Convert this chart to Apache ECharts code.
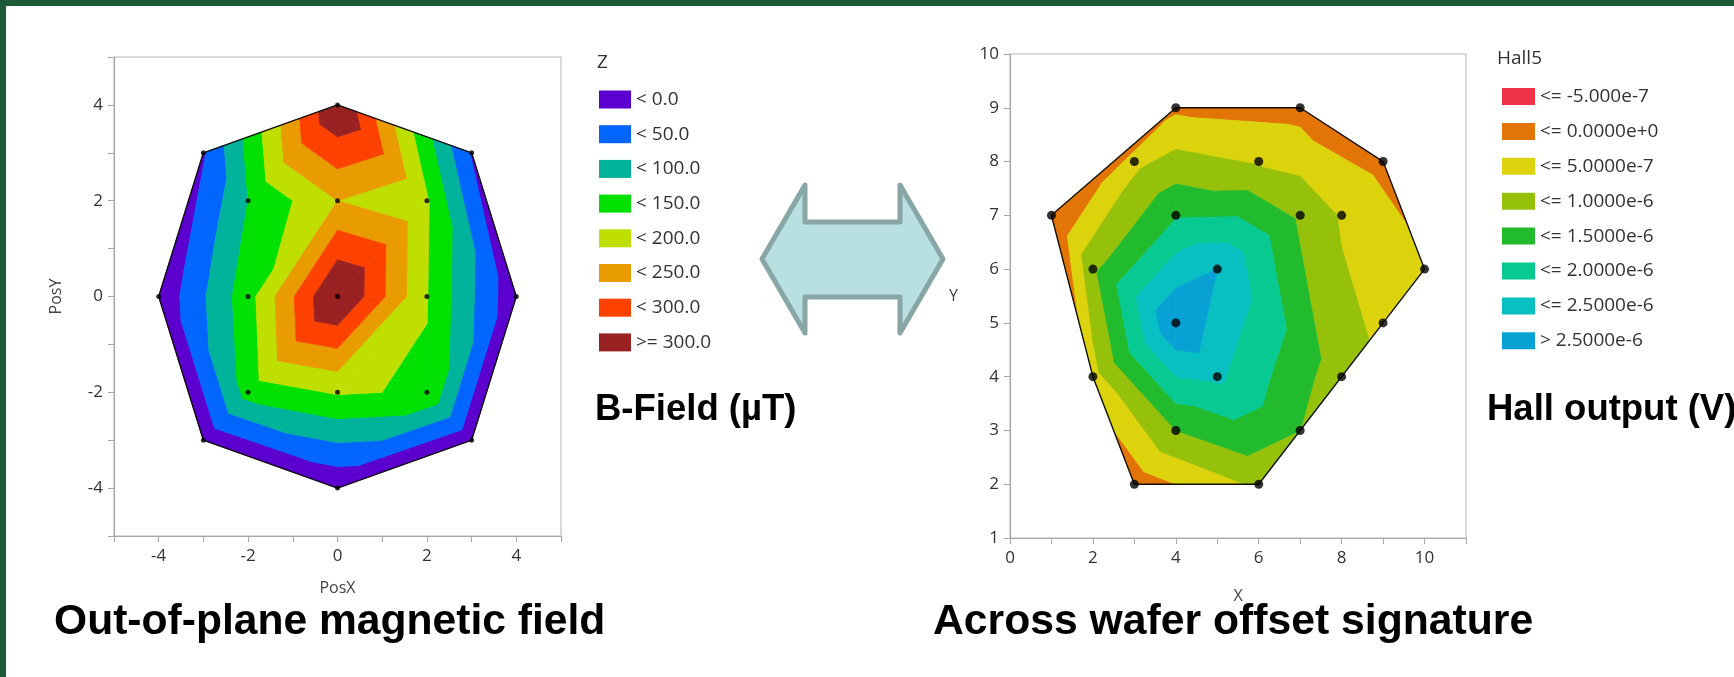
<!DOCTYPE html>
<html><head><meta charset="utf-8">
<script src="https://cdn.jsdelivr.net/npm/echarts@6/dist/echarts.min.js"></script>
<style>html,body{margin:0;padding:0;background:#1c5a38;}#c{width:1734px;height:677px;}</style>
</head><body><div id="c"></div>
<script>
// ---------- Left plot: out-of-plane magnetic field (Z, µT) ----------
const posX  = [0, 3, 4, 3, 0, -3, -4, -3, -2, 0, 2, -2, 0, 2, -2, 0, 2];
const posY  = [4, 3, 0, -3, -4, -3, 0, 3, 2, 2, 2, 0, 0, 0, -2, -2, -2];
const zVals = [350, -5, -40, -40, -45, -40, -40, -5, 100, 200, 155, 130, 362, 152, 120, 155, 145];
const zLevels = [0, 50, 100, 150, 200, 250, 300];
const zLabels = ['< 0.0', '< 50.0', '< 100.0', '< 150.0', '< 200.0', '< 250.0', '< 300.0', '>= 300.0'];
const zColors = ['#5c00cf', '#0066ff', '#00b39a', '#00e100', '#bedf00', '#e99c00', '#fd4200', '#9a2121'];

// ---------- Right plot: Hall output (V) ----------
const hallX = [1, 4, 7, 3, 6, 9, 4, 7, 8, 2, 5, 10, 4, 9, 2, 5, 8, 4, 7, 3, 6];
const hallY = [7, 9, 9, 8, 8, 8, 7, 7, 7, 6, 6, 6, 5, 5, 4, 4, 4, 3, 3, 2, 2];
const hallV = [-5.6e-7, -1e-7, -2e-7, 3.5e-7, 4.5e-7, -1.5e-7, 1.45e-6, 9e-7, 4.5e-7, 9e-7, 2.5e-6, 1e-7,
               3.0e-6, 4e-7, 3e-7, 2.1e-6, 7e-7, 1.0e-6, 1.0e-6, -3e-7, 6e-7];
const hallLevels = [-5e-7, 0, 5e-7, 1e-6, 1.5e-6, 2e-6, 2.5e-6];
const hallLabels = ['<= -5.000e-7', '<= 0.0000e+0', '<= 5.0000e-7', '<= 1.0000e-6', '<= 1.5000e-6', '<= 2.0000e-6', '<= 2.5000e-6', '> 2.5000e-6'];
const hallColors = ['#f03348', '#e27506', '#dcd30c', '#95c10a', '#22bb2e', '#08c992', '#08bfc2', '#07a1d4'];

// axis ranges
const leftRange  = {xmin: -5, xmax: 5, ymin: -5, ymax: 5};
const rightRange = {xmin: 0, xmax: 11, ymin: 1, ymax: 10};

// ---------- geometry helpers ----------
function delaunay(xs, ys) {
  const n = xs.length;
  const P = xs.map((x, i) => [x, ys[i] - 0.01 * x]); // tiny shear as tie-break
  let minX = Infinity, minY = Infinity, maxX = -Infinity, maxY = -Infinity;
  P.forEach(p => { minX = Math.min(minX, p[0]); maxX = Math.max(maxX, p[0]); minY = Math.min(minY, p[1]); maxY = Math.max(maxY, p[1]); });
  const d = Math.max(maxX - minX, maxY - minY) * 50, cx = (minX + maxX) / 2, cy = (minY + maxY) / 2;
  P.push([cx - 2 * d, cy - d], [cx, cy + 2 * d], [cx + 2 * d, cy - d]);
  function circ(t) {
    const [ax, ay] = P[t[0]], [bx, by] = P[t[1]], [qx, qy] = P[t[2]];
    const D = 2 * (ax * (by - qy) + bx * (qy - ay) + qx * (ay - by));
    if (Math.abs(D) < 1e-14) return {x: 0, y: 0, r2: Infinity};
    const a2 = ax * ax + ay * ay, b2 = bx * bx + by * by, c2 = qx * qx + qy * qy;
    const ux = (a2 * (by - qy) + b2 * (qy - ay) + c2 * (ay - by)) / D;
    const uy = (a2 * (qx - bx) + b2 * (ax - qx) + c2 * (bx - ax)) / D;
    return {x: ux, y: uy, r2: (ax - ux) ** 2 + (ay - uy) ** 2};
  }
  let tris = [[n, n + 1, n + 2]];
  for (let i = 0; i < n; i++) {
    const p = P[i], bad = [], good = [];
    for (const t of tris) {
      const c = t.c || (t.c = circ(t));
      const dd = (p[0] - c.x) ** 2 + (p[1] - c.y) ** 2;
      (dd < c.r2 * (1 - 1e-12) ? bad : good).push(t);
    }
    const edges = new Map();
    for (const t of bad) for (const [a, b] of [[t[0], t[1]], [t[1], t[2]], [t[2], t[0]]]) {
      const k = a < b ? a + ',' + b : b + ',' + a;
      const e = edges.get(k);
      if (e) e.n++; else edges.set(k, {a, b, n: 1});
    }
    tris = good;
    for (const e of edges.values()) if (e.n === 1) tris.push([e.a, e.b, i]);
  }
  return tris.filter(t => t[0] < n && t[1] < n && t[2] < n &&
    Math.abs((xs[t[1]] - xs[t[0]]) * (ys[t[2]] - ys[t[0]]) - (xs[t[2]] - xs[t[0]]) * (ys[t[1]] - ys[t[0]])) > 1e-9)
    .map(t => [t[0], t[1], t[2]]);
}
function clip(poly, f) {
  const out = [];
  for (let i = 0; i < poly.length; i++) {
    const a = poly[i], b = poly[(i + 1) % poly.length];
    const fa = f(a), fb = f(b);
    if (fa >= 0) out.push(a);
    if ((fa >= 0) !== (fb >= 0)) {
      const t = fa / (fa - fb);
      out.push({x: a.x + t * (b.x - a.x), y: a.y + t * (b.y - a.y), v: a.v + t * (b.v - a.v)});
    }
  }
  return out;
}
function polyArea(p) { let s = 0; for (let i = 0; i < p.length; i++) { const a = p[i], b = p[(i + 1) % p.length]; s += a[0] * b[1] - b[0] * a[1]; } return Math.abs(s / 2); }
function convexHull(xs, ys) {
  const pts = xs.map((x, i) => [x, ys[i]]).sort((a, b) => a[0] - b[0] || a[1] - b[1]);
  const cross = (o, a, b) => (a[0] - o[0]) * (b[1] - o[1]) - (a[1] - o[1]) * (b[0] - o[0]);
  const lower = [], upper = [];
  for (const p of pts) { while (lower.length >= 2 && cross(lower[lower.length - 2], lower[lower.length - 1], p) <= 0) lower.pop(); lower.push(p); }
  for (let i = pts.length - 1; i >= 0; i--) { const p = pts[i]; while (upper.length >= 2 && cross(upper[upper.length - 2], upper[upper.length - 1], p) <= 0) upper.pop(); upper.push(p); }
  const h = lower.slice(0, -1).concat(upper.slice(0, -1));
  h.push(h[0]);
  return h;
}
function bandSeries(xs, ys, vs, levels, labels, colors, gi) {
  const tris = delaunay(xs, ys);
  const bounds = [-Infinity, ...levels, Infinity];
  return labels.map((name, k) => {
    const lo = bounds[k], hi = bounds[k + 1];
    const polys = [];
    for (const t of tris) {
      let poly = t.map(i => ({x: xs[i], y: ys[i], v: vs[i]}));
      if (lo > -Infinity) poly = clip(poly, q => q.v - lo);
      if (poly.length >= 3 && hi < Infinity) poly = clip(poly, q => hi - q.v);
      if (poly.length >= 3) { const pp = poly.map(q => [q.x, q.y]); if (polyArea(pp) > 1e-7) polys.push(pp); }
    }
    return {
      type: 'custom', name, xAxisIndex: gi, yAxisIndex: gi, color: colors[k], itemStyle: {color: colors[k]},
      animation: false, silent: true, z: 1,
      data: polys.map(p => p[0]),
      renderItem: (params, api) => ({
        type: 'polygon',
        shape: {points: polys[params.dataIndex].map(p => api.coord(p))},
        style: {fill: colors[k], stroke: colors[k], lineWidth: 0.8}
      })
    };
  });
}

const FONT = "'Open Sans', 'Noto Sans', sans-serif";
const axisCommon = (gi, r, isX, everyOther, name, nameGap, nameRotate) => ({
  type: 'value', gridIndex: gi, min: isX ? r.xmin : r.ymin, max: isX ? r.xmax : r.ymax, interval: 1,
  name, nameLocation: 'middle', nameGap, nameRotate,
  nameTextStyle: {fontSize: 16, color: '#444', fontFamily: FONT},
  axisLine: {show: true, onZero: false, lineStyle: {color: '#a9a9a9', width: 1.2}},
  axisTick: {show: true, inside: false, length: 6, lineStyle: {color: '#a9a9a9'}},
  axisLabel: {fontSize: 17, color: '#333', fontFamily: FONT, margin: isX ? 12 : 11,
    formatter: v => (everyOther && v % 2 !== 0) ? '' : String(v),
    showMinLabel: true, showMaxLabel: true},
  splitLine: {show: false}
});

const chart = echarts.init(document.getElementById('c'), null, {renderer: 'canvas'});
const hullL = convexHull(posX, posY), hullR = convexHull(hallX, hallY);
const BOLD = "'Liberation Sans', Arial, sans-serif";
chart.setOption({
  backgroundColor: '#1c5a38',
  animation: false,
  textStyle: {fontFamily: FONT},
  grid: [
    {left: 114, top: 57, width: 447, height: 479, show: true, borderColor: '#b4b4b4', borderWidth: 1, backgroundColor: 'transparent'},
    {left: 1010, top: 54, width: 456, height: 484, show: true, borderColor: '#b4b4b4', borderWidth: 1, backgroundColor: 'transparent'}
  ],
  xAxis: [
    axisCommon(0, leftRange, true, true, 'PosX', 44, 0),
    axisCommon(1, rightRange, true, true, 'X', 50, 0)
  ],
  yAxis: [
    axisCommon(0, leftRange, false, true, 'PosY', 50, 90),
    axisCommon(1, rightRange, false, false, 'Y', 52, 0)
  ],
  legend: [
    {data: zLabels, orient: 'vertical', left: 599, top: 90, padding: 0, itemWidth: 32, itemHeight: 18, itemGap: 15.7,
     icon: 'rect', selectedMode: false, textStyle: {fontSize: 19, color: '#333', fontFamily: FONT, lineHeight: 18}},
    {data: hallLabels, orient: 'vertical', left: 1502, top: 87, padding: 0, itemWidth: 33, itemHeight: 17, itemGap: 15.9,
     icon: 'rect', selectedMode: false, textStyle: {fontSize: 19, color: '#333', fontFamily: FONT, lineHeight: 17}}
  ],
  graphic: {elements: [
    {type: 'rect', z: -100, shape: {x: 6, y: 6, width: 1740, height: 690}, style: {fill: '#ffffff'}, silent: true},
    {type: 'polygon', z: 10, shape: {points: [[762, 259], [805, 185], [805, 222], [900, 222], [900, 185], [943, 259], [900, 333], [900, 297], [805, 297], [805, 333]]},
     style: {fill: '#b8dfe2', stroke: '#88a6a6', lineWidth: 5, lineJoin: 'round'}},
    {type: 'text', z: 10, left: 597, top: 53, style: {text: 'Z', font: "19px 'Open Sans', sans-serif", fill: '#333'}},
    {type: 'text', z: 10, left: 1497, top: 49, style: {text: 'Hall5', font: "19px 'Open Sans', sans-serif", fill: '#333'}},
    {type: 'text', z: 10, left: 595, top: 391, style: {text: 'B-Field (µT)', font: "bold 36.5px " + BOLD, fill: '#000'}},
    {type: 'text', z: 10, left: 1487, top: 391, style: {text: 'Hall output (V)', font: "bold 36.5px " + BOLD, fill: '#000'}},
    {type: 'text', z: 10, left: 54, top: 601, style: {text: 'Out-of-plane magnetic field', font: "bold 42.6px " + BOLD, fill: '#000'}},
    {type: 'text', z: 10, left: 933, top: 601, style: {text: 'Across wafer offset signature', font: "bold 42.7px " + BOLD, fill: '#000'}}
  ]},
  series: [
    ...bandSeries(posX, posY, zVals, zLevels, zLabels, zColors, 0),
    {type: 'line', xAxisIndex: 0, yAxisIndex: 0, data: hullL, symbol: 'none', silent: true, z: 3,
     lineStyle: {color: '#111', width: 1.4}},
    {type: 'scatter', xAxisIndex: 0, yAxisIndex: 0, data: posX.map((x, i) => [x, posY[i]]), symbolSize: 5, z: 4,
     itemStyle: {color: '#000'}, silent: true},
    ...bandSeries(hallX, hallY, hallV, hallLevels, hallLabels, hallColors, 1),
    {type: 'line', xAxisIndex: 1, yAxisIndex: 1, data: hullR, symbol: 'none', silent: true, z: 3,
     lineStyle: {color: '#111', width: 1.4}},
    {type: 'scatter', xAxisIndex: 1, yAxisIndex: 1, data: hallX.map((x, i) => [x, hallY[i]]), symbolSize: 9, z: 4,
     itemStyle: {color: '#000'}, silent: true}
  ]
});
</script></body></html>
